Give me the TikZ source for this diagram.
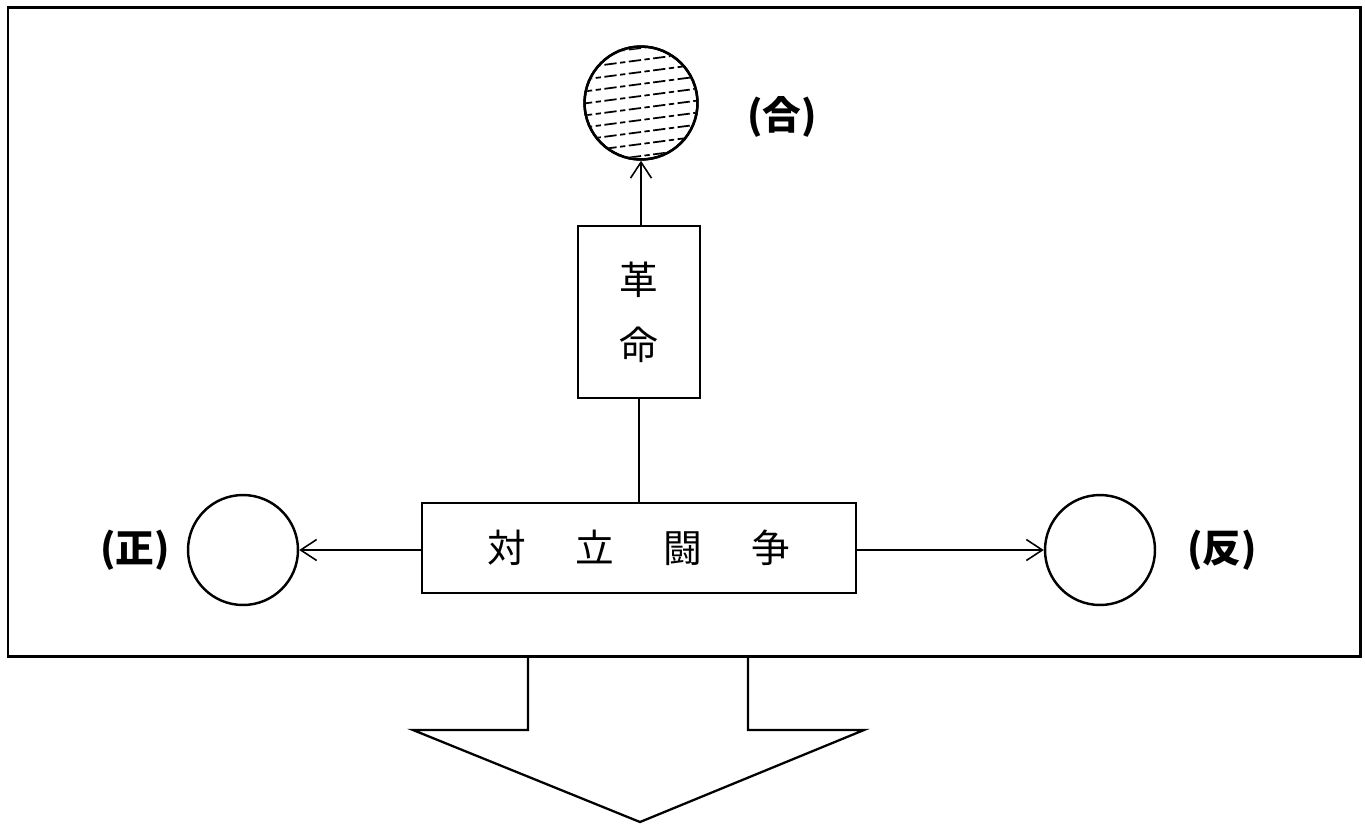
\documentclass[tikz,border=0pt]{standalone}
\usepackage{fontspec}
\newfontfamily\cjk{Noto Sans CJK JP}
\usetikzlibrary{arrows.meta}
\begin{document}
\begin{tikzpicture}[x=0.02cm,y=-0.02cm,
  frame/.style={line width=1.7pt},
  ring/.style={draw, circle, line width=1.4pt, minimum size=2.2cm, inner sep=0pt},
  txtbox/.style={draw, line width=1.1pt, inner sep=0pt, font=\cjk\fontsize{22}{37}\selectfont, align=center},
  lab/.style={font=\cjk\bfseries\fontsize{22}{26}\selectfont, inner sep=0pt},
  conn/.style={line width=0.9pt},
  arr/.style={conn, -{Straight Barb[length=0.32cm,width=0.42cm,line width=0.9pt]}},
  hatch/.style={line width=1pt, dash pattern=on 7pt off 2pt on 3pt off 2pt}
]
\useasboundingbox (0,0) rectangle (1365,826);
% outer frame
\draw[frame] (8,7) rectangle (1360,656);
% top hatched circle
\node[ring, minimum size=2.26cm] (syn) at (641,103) {};
\begin{scope}
  \clip (641,103) circle [radius=55];
  \foreach \yy in {48,60,...,170} {
    \draw[hatch] (580,\yy+8) -- (702,\yy-8);
  }
\end{scope}
\node[ring, minimum size=2.26cm] at (641,103) {};
\node[lab] (labsyn) at (782,117) {(合)};
% revolution box
\node[txtbox, minimum width=2.44cm, minimum height=3.44cm] (rev) at (639,312) {革\\命};
% main box
\node[txtbox, minimum width=8.68cm, minimum height=1.8cm] (main) at (639,548)
  {対\hspace{28pt}立\hspace{28pt}闘\hspace{28pt}争};
% side circles
\node[ring] (thesis) at (243,550) {};
\node[ring] (anti) at (1100,550) {};
\node[lab] (labthesis) at (135,550) {(正)};
\node[lab] (labanti) at (1222,550) {(反)};
% connectors
\draw[arr] (rev.north -| syn.south) -- (syn.south);
\draw[conn] (main.north -| rev.south) -- (rev.south);
\draw[arr] (main.west |- thesis.east) -- (thesis.east);
\draw[arr] (main.east |- anti.west) -- (anti.west);
% big down arrow
\draw[line width=1.3pt, line join=miter]
  (528,656) -- (528,730) -- (413,730) -- (640,822) -- (864,730) -- (748,730) -- (748,656);
\end{tikzpicture}
\end{document}
